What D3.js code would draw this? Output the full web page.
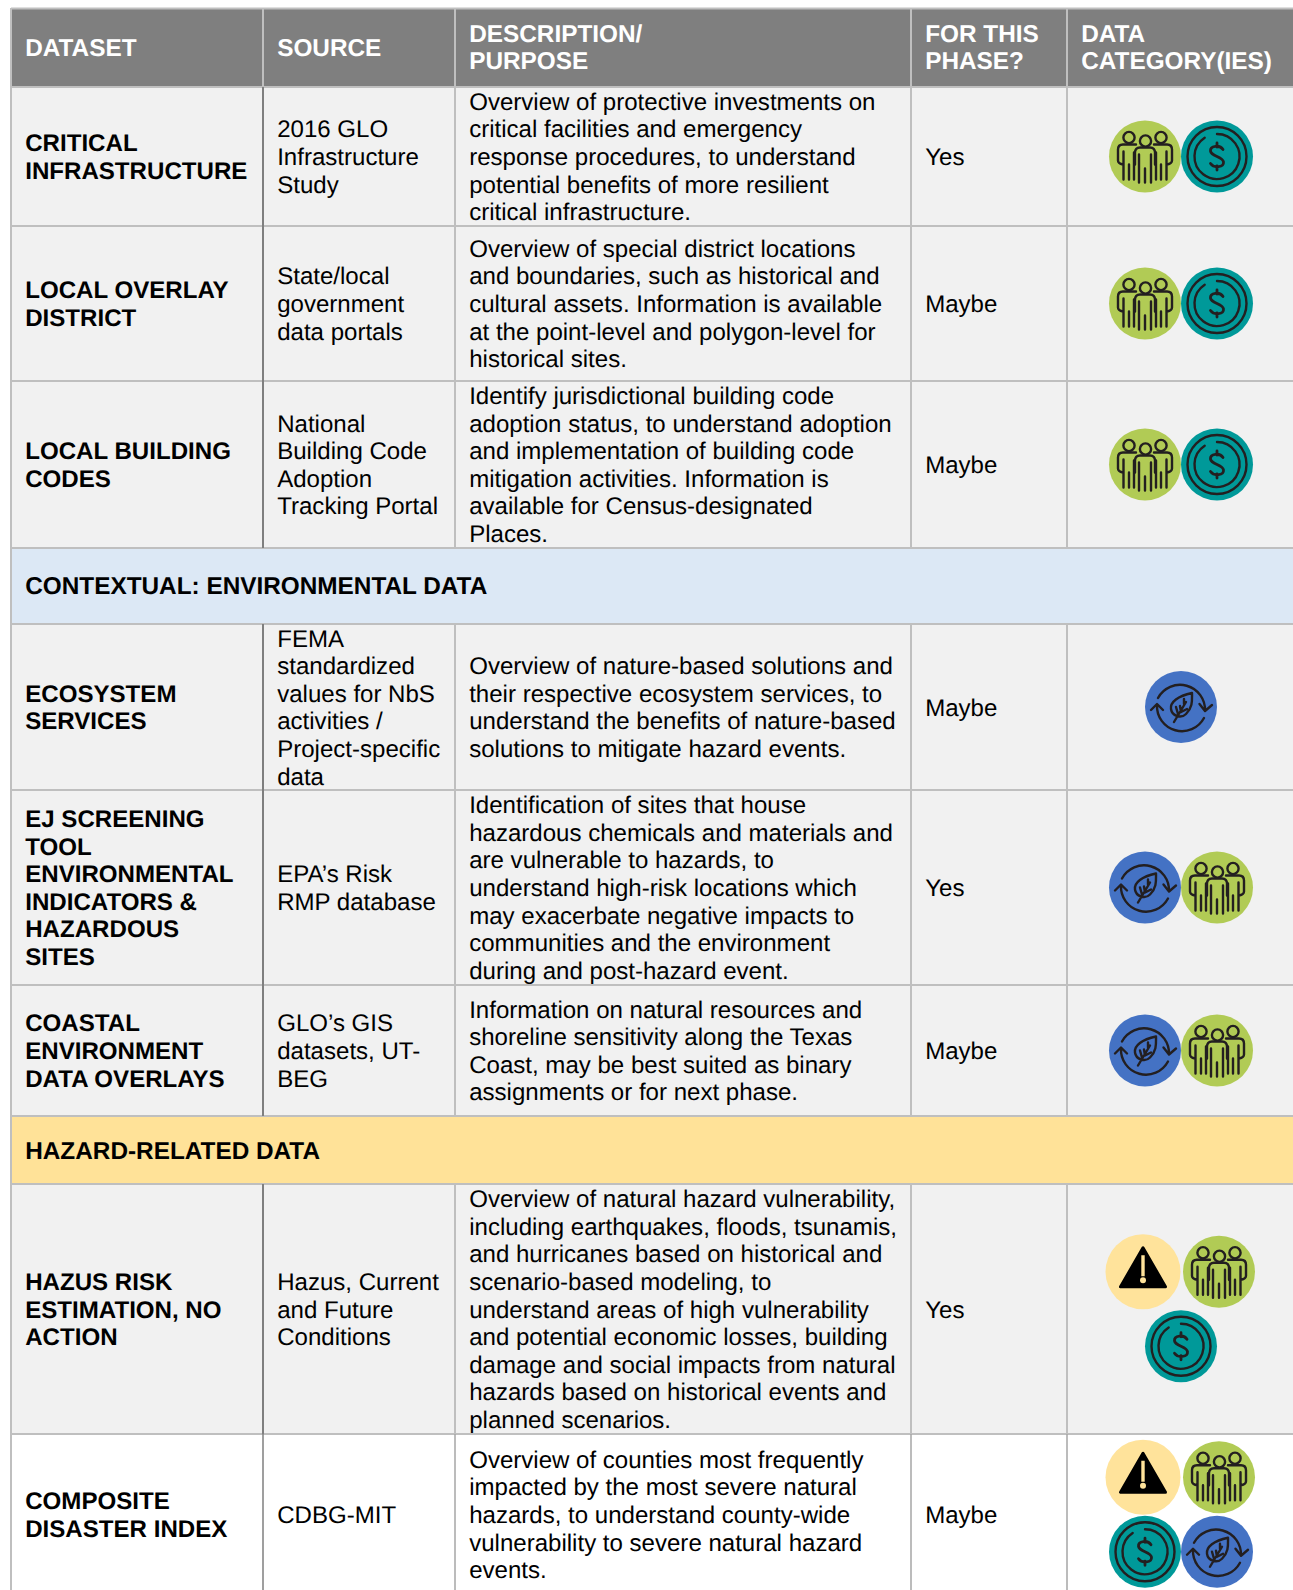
<!DOCTYPE html>
<html>
<head>
<meta charset="utf-8">
<script src="https://cdn.jsdelivr.net/npm/d3@7"></script>
<style>
  html, body { margin: 0; padding: 0; background: #fff; overflow: hidden; }
  text { font-family: "Liberation Sans", Arial, sans-serif; text-rendering: geometricPrecision; }
</style>
</head>
<body>
<div id="chart"></div>
<script>
// Table content.
const columns = ["DATASET", "SOURCE", "DESCRIPTION/\nPURPOSE", "FOR THIS\nPHASE?", "DATA\nCATEGORY(IES)"];

const datasets = [
  "CRITICAL\nINFRASTRUCTURE",
  "LOCAL OVERLAY\nDISTRICT",
  "LOCAL BUILDING\nCODES",
  "ECOSYSTEM\nSERVICES",
  "EJ SCREENING\nTOOL\nENVIRONMENTAL\nINDICATORS &\nHAZARDOUS\nSITES",
  "COASTAL\nENVIRONMENT\nDATA OVERLAYS",
  "HAZUS RISK\nESTIMATION, NO\nACTION",
  "COMPOSITE\nDISASTER INDEX"
];

const sources = [
  "2016 GLO\nInfrastructure\nStudy",
  "State/local\ngovernment\ndata portals",
  "National\nBuilding Code\nAdoption\nTracking Portal",
  "FEMA\nstandardized\nvalues for NbS\nactivities /\nProject-specific\ndata",
  "EPA’s Risk\nRMP database",
  "GLO’s GIS\ndatasets, UT-\nBEG",
  "Hazus, Current\nand Future\nConditions",
  "CDBG-MIT"
];

const descriptions = [
  "Overview of protective investments on\ncritical facilities and emergency\nresponse procedures, to understand\npotential benefits of more resilient\ncritical infrastructure.",
  "Overview of special district locations\nand boundaries, such as historical and\ncultural assets. Information is available\nat the point-level and polygon-level for\nhistorical sites.",
  "Identify jurisdictional building code\nadoption status, to understand adoption\nand implementation of building code\nmitigation activities. Information is\navailable for Census-designated\nPlaces.",
  "Overview of nature-based solutions and\ntheir respective ecosystem services, to\nunderstand the benefits of nature-based\nsolutions to mitigate hazard events.",
  "Identification of sites that house\nhazardous chemicals and materials and\nare vulnerable to hazards, to\nunderstand high-risk locations which\nmay exacerbate negative impacts to\ncommunities and the environment\nduring and post-hazard event.",
  "Information on natural resources and\nshoreline sensitivity along the Texas\nCoast, may be best suited as binary\nassignments or for next phase.",
  "Overview of natural hazard vulnerability,\nincluding earthquakes, floods, tsunamis,\nand hurricanes based on historical and\nscenario-based modeling, to\nunderstand areas of high vulnerability\nand potential economic losses, building\ndamage and social impacts from natural\nhazards based on historical events and\nplanned scenarios.",
  "Overview of counties most frequently\nimpacted by the most severe natural\nhazards, to understand county-wide\nvulnerability to severe natural hazard\nevents."
];

const phases = ["Yes", "Maybe", "Maybe", "Maybe", "Yes", "Maybe", "Yes", "Maybe"];

const categories = [
  ["people", "money"],
  ["people", "money"],
  ["people", "money"],
  ["leaf"],
  ["leaf", "people"],
  ["leaf", "people"],
  ["hazard", "people", "money"],
  ["hazard", "people", "money", "leaf"]
];

const bandLabels = ["CONTEXTUAL: ENVIRONMENTAL DATA", "HAZARD-RELATED DATA"];
const bandBefore = [3, 6];   // Data row index each band sits above.

// Layout.
const width = 1293, height = 1590;
const columnEdges = [11, 263, 455, 911, 1067, 1293];
const rowEdges = [87, 226, 381, 548, 624, 790, 985, 1116, 1184, 1434, 1595];
const bandNudge = [-1, 0];
const headerTop = 9;
const regularSize = 24.05, boldSize = 24.1, titleSize = 24.35, lineHeight = 27.6;
const textPad = 14.2;
const lastRow = datasets.length - 1;   // Last row sits on white, with thinner rules.
const colors = {
  header: "#7f7f7f", cell: "#f1f1f1", line: "#bfbfbf", dark: "#7f7f7f",
  band0: "#dce8f5", band1: "#ffe298", text: "#000", ink: "#231f20",
  people: "#b1cb55", money: "#009999", leaf: "#4472c4", hazard: "#ffe39b"
};

const columnX = d3.scaleOrdinal(d3.range(columns.length), columnEdges);
const rowSlots = d3.range(rowEdges.length - 1);
const rowTop = d3.scaleOrdinal(rowSlots, rowEdges);
const rowBottom = d3.scaleOrdinal(rowSlots, rowEdges.slice(1));

// Map data row index to its slot, skipping the bands.
const slotOf = i => i + bandBefore.filter(b => b <= i).length;
const bandSlot = k => bandBefore[k] + k;

const svg = d3.select("#chart").append("svg")
  .attr("width", width)
  .attr("height", height)
  .attr("viewBox", [0, 0, width, height])
  .style("display", "block");

// Multi line text block, centred vertically on cy.
function block(g, str, x, cy, opts) {
  const lines = str.split("\n");
  const size = opts.size || (opts.bold ? boldSize : regularSize);
  const start = cy - (lines.length - 1) * lineHeight / 2;
  g.append("text")
    .attr("fill", opts.fill)
    .attr("font-weight", opts.bold ? "bold" : "normal")
    .attr("font-size", size)
    .selectAll("tspan")
    .data(lines)
    .join("tspan")
      .attr("x", x)
      .attr("y", (d, i) => start + i * lineHeight + size * 0.355)
      .text(d => d);
}

// Header row.
const head = svg.append("g");
head.append("rect").attr("x", columnEdges[0]).attr("y", headerTop)
  .attr("width", width - columnEdges[0]).attr("height", rowEdges[0] - headerTop)
  .attr("fill", colors.header);
columns.forEach((c, i) => {
  block(head, c, columnX(i) + textPad, (headerTop + rowEdges[0]) / 2 - 1, { fill: "#fff", bold: true, size: titleSize });
});

// Data rows.
const body = svg.append("g");
datasets.forEach((d, i) => {
  const s = slotOf(i);
  const y0 = rowTop(s), y1 = rowBottom(s), cy = (y0 + y1) / 2;
  body.append("rect").attr("x", columnEdges[0]).attr("y", y0)
    .attr("width", width - columnEdges[0]).attr("height", y1 - y0)
    .attr("fill", i === lastRow ? "#fff" : colors.cell);
  block(body, d, columnX(0) + textPad, cy, { fill: colors.text, bold: true });
  block(body, sources[i], columnX(1) + textPad, cy, { fill: colors.text });
  block(body, descriptions[i], columnX(2) + textPad, cy, { fill: colors.text });
  block(body, phases[i], columnX(3) + textPad, cy, { fill: colors.text });
});

// Section bands.
const bands = svg.append("g");
bandLabels.forEach((label, k) => {
  const s = bandSlot(k);
  bands.append("rect").attr("x", columnEdges[0]).attr("y", rowTop(s))
    .attr("width", width - columnEdges[0]).attr("height", rowBottom(s) - rowTop(s))
    .attr("fill", colors["band" + k]);
  block(bands, label, columnX(0) + textPad, (rowTop(s) + rowBottom(s)) / 2 + bandNudge[k], { fill: colors.text, bold: true, size: titleSize });
});

// Grid lines.
const grid = svg.append("g").attr("fill", "none");
grid.selectAll("line.h")
  .data([headerTop - 0.5].concat(rowEdges.slice(0, -1)))
  .join("line")
    .attr("x1", columnEdges[0]).attr("x2", width)
    .attr("y1", d => d).attr("y2", d => d)
    .attr("stroke", colors.line).attr("stroke-width", 2);
grid.append("line").attr("x1", columnEdges[0]).attr("x2", columnEdges[0])
  .attr("y1", headerTop - 1).attr("y2", height)
  .attr("stroke", colors.line).attr("stroke-width", 2);

// Column rules, skipping the bands.
columnEdges.slice(1, 4 + 1).forEach((x, c) => {
  grid.append("line").attr("x1", x).attr("x2", x)
    .attr("y1", headerTop).attr("y2", rowEdges[0])
    .attr("stroke", colors.line).attr("stroke-width", 2);
  datasets.forEach((d, i) => {
    const s = slotOf(i);
    grid.append("line").attr("x1", x).attr("x2", x)
      .attr("y1", rowTop(s)).attr("y2", rowBottom(s))
      .attr("stroke", c === 0 ? colors.dark : (i === lastRow ? "#a6a6a6" : colors.line))
      .attr("stroke-width", i === lastRow ? 1.5 : 2);
  });
});

// Icons, drawn around (0,0) with a 36px radius.
const radius = 36;
const inked = g => g.append("g")
  .attr("fill", "none").attr("stroke", colors.ink)
  .attr("stroke-width", 2.4).attr("stroke-linecap", "round").attr("stroke-linejoin", "round");

function drawPeople(g) {
  const k = inked(g);
  [[-16, -19], [0.5, -15.5], [16, -19]].forEach(h => {
    k.append("circle").attr("cx", h[0]).attr("cy", h[1]).attr("r", 5.6);
  });
  k.append("path").attr("d",
    "M-9,-12H-22Q-27,-12 -27,-7V4Q-27,7 -22,8" +
    "M9,-12H22Q27,-12 27,-7V4Q27,7 22,8" +
    "M-21.5,-5V23M-16,8V23M-11,-4V23" +
    "M21.5,-5V23M16,8V23M11,-4V23");
  k.append("path").attr("d",
    "M-10,8V-4Q-10,-9 -5,-9H5Q10,-9 10,-4V8" +
    "M-6,-2V26M0,12V26M6,-2V26");
}

function drawMoney(g) {
  const k = inked(g);
  k.append("circle").attr("r", 29.5);
  const arc = d3.path();
  arc.arc(0, 0, 22.5, -Math.PI / 2, -Math.PI / 2 - 0.58 + 2 * Math.PI);
  k.append("path").attr("d", arc.toString());
  k.append("path").attr("stroke-width", 2.8).attr("d",
    "M6,-7C3,-12 -7,-11 -6.5,-5.5C-6,0 6,0 6.5,5.5C7,11 -3,12 -6.5,7M0,-13.5V-9.5M0,9.5V13.5");
}

function drawLeaf(g) {
  const k = inked(g);
  k.append("path").attr("d",
    "M-23,-9A25,25 0 0 1 24,4M18.5,-3L24,4L31,-2" +
    "M23,11A25,25 0 0 1 -24,-2M-30,3L-24,-3L-18,3");
  k.append("path").attr("d",
    "M11,-14C-3,-11 -11,-5 -10,2C-9,9 0,12 5,7C12,0 11,-7 11,-14Z" +
    "M-7,15L5,-5M-5,0L-3,7M-1,-1L0,5L6,2M3,-8L3,-3");
}

function drawHazard(g) {
  g.append("path").attr("fill", "#000").attr("stroke", "#000")
    .attr("stroke-width", 3).attr("stroke-linejoin", "round")
    .attr("d", "M0,-24L-22.5,15H22.5Z");
  g.append("rect").attr("x", -1.7).attr("y", -16.5).attr("width", 3.4).attr("height", 21)
    .attr("fill", colors.hazard);
  g.append("circle").attr("cy", 8.5).attr("r", 3).attr("fill", colors.hazard);
}

const drawers = { people: drawPeople, money: drawMoney, leaf: drawLeaf, hazard: drawHazard };

// Icons wrap in rows of two inside the last column, centred.
const iconCentreX = 1181;
const iconGapX = 72, hazardGapX = 76, iconGapY = 74.5;
const iconsLayer = svg.append("g");
categories.forEach((cats, i) => {
  const s = slotOf(i);
  const cy = (rowTop(s) + rowBottom(s)) / 2;
  const rows = d3.range(0, cats.length, 2).map(j => cats.slice(j, j + 2));
  rows.forEach((r, ri) => {
    const gap = r.includes("hazard") ? hazardGapX : iconGapX;
    r.forEach((name, ci) => {
      const x = iconCentreX + (ci - (r.length - 1) / 2) * gap;
      const y = cy + (ri - (rows.length - 1) / 2) * iconGapY;
      const g = iconsLayer.append("g").attr("transform", `translate(${x},${y})`);
      g.append("circle").attr("r", name === "hazard" ? radius + 1.5 : radius).attr("fill", colors[name]);
      drawers[name](g);
    });
  });
});
</script>
</body>
</html>
